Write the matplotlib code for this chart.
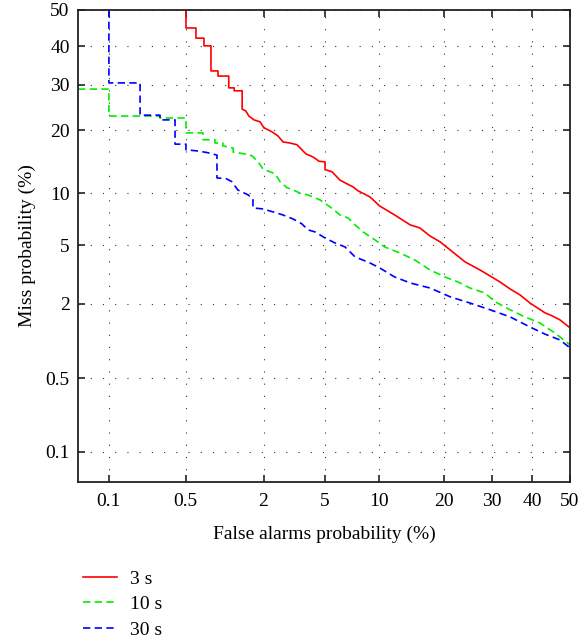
import numpy as np
import matplotlib
matplotlib.use("Agg")
import matplotlib.pyplot as plt
from statistics import NormalDist

# ---- data (percent) ----
fa_3s = [0.503,0.503,0.609,0.609,0.708,0.708,0.806,0.806,0.916,0.916,1.11,1.11,1.22,1.22,1.4,1.4,1.49,1.57,1.71,1.89,2.01,2.15,2.29,2.52,2.72,3.03,3.36,3.62,3.84,4.25,4.63,5.03,5.03,5.53,6.16,6.75,7.29,7.77,9.0,10.1,12.0,14.2,15.7,17.4,19.2,21.1,24.1,27.3,29.6,31.9,34.4,36.9,39.4,43.3,45.2,47.3,50.0]
miss_3s = [50.0,45.0,45.0,42.2,42.2,40.1,40.1,33.5,33.5,32.2,32.2,29.3,29.3,28.6,28.6,24.4,24.0,22.9,22.1,21.7,20.5,20.1,19.7,18.9,17.8,17.6,17.3,16.4,15.7,15.2,14.5,14.4,13.2,12.9,11.7,11.2,10.8,10.3,9.55,8.52,7.58,6.64,6.37,5.7,5.24,4.66,3.9,3.45,3.14,2.86,2.55,2.31,2.02,1.71,1.62,1.51,1.31]

fa_10s = [0.0488,0.1,0.1,0.3,0.3,0.503,0.503,0.695,0.695,0.867,0.867,1.0,1.0,1.2,1.2,1.47,1.65,1.83,1.98,2.4,2.6,2.89,3.27,3.52,3.95,4.69,5.39,6.16,6.84,7.48,8.27,9.56,10.7,12.7,14.9,17.4,20.1,22.6,25.1,28.4,30.8,34.4,38.1,42.0,46.0,50.0]
miss_10s = [29.0,29.0,22.9,22.9,22.5,22.5,19.5,19.5,18.2,18.2,17.6,17.6,17.1,16.7,16.0,15.7,15.4,14.4,13.3,12.6,11.5,10.7,10.3,10.0,9.79,9.2,8.42,7.58,7.29,6.64,6.03,5.39,4.87,4.46,4.02,3.45,3.09,2.86,2.59,2.39,2.06,1.8,1.59,1.43,1.19,0.957]

fa_30s = [0.1,0.1,0.198,0.198,0.3,0.3,0.406,0.406,0.503,0.503,0.633,0.763,0.899,0.899,1.06,1.17,1.3,1.55,1.68,1.68,1.98,2.33,2.72,3.17,3.62,3.95,4.37,5.03,5.76,6.58,7.48,9.0,10.1,12.0,14.2,17.4,21.1,25.1,29.6,34.4,39.4,43.3,47.3,50.0]
miss_30s = [50.0,30.5,30.5,23.1,23.1,22.1,22.1,17.4,17.4,16.4,16.2,15.9,15.5,12.0,11.9,11.5,10.4,9.79,9.31,8.31,8.2,7.89,7.58,7.19,6.73,6.2,6.03,5.54,5.16,4.87,4.21,3.84,3.56,3.09,2.81,2.59,2.24,2.02,1.8,1.59,1.33,1.17,1.05,0.905]

ticks = [0.1, 0.5, 2, 5, 10, 20, 30, 40, 50]
tick_labels = ["0.1", "0.5", "2", "5", "10", "20", "30", "40", "50"]
series_labels = ["3 s", "10 s", "30 s"]

# ---- probit scale ----
_nd = NormalDist()
def _fwd(p):
    p = np.clip(np.asarray(p, dtype=float) / 100.0, 1e-9, 1 - 1e-9)
    return np.vectorize(_nd.inv_cdf, otypes=[float])(p) if p.ndim else _nd.inv_cdf(float(p))
def _inv(z):
    z = np.asarray(z, dtype=float)
    return 100.0 * (np.vectorize(_nd.cdf, otypes=[float])(z) if z.ndim else _nd.cdf(float(z)))

plt.rcParams['font.family'] = ['Liberation Serif', 'DejaVu Serif']
fs = 14

fig = plt.figure(figsize=(5.88, 6.40), dpi=100)
ax = fig.add_axes([78/588, 1-482/640, (570-78)/588, (482-10)/640])
ax.set_xscale('function', functions=(_fwd, _inv))
ax.set_yscale('function', functions=(_fwd, _inv))

lw = 1.2
l1, = ax.plot(fa_3s, miss_3s, color='#ff0000', lw=lw, label=series_labels[0])
l2, = ax.plot(fa_10s, miss_10s, color='#00ee00', lw=lw, ls='--', dashes=(4.4, 2.6), label=series_labels[1])
l3, = ax.plot(fa_30s, miss_30s, color='#0000ff', lw=lw, ls='--', dashes=(4.4, 2.6), label=series_labels[2])

ax.set_xlim(0.0488, 50)
ax.set_ylim(0.048, 50)
ax.set_xticks(ticks)
ax.set_xticklabels(tick_labels)
ax.set_yticks(ticks)
ax.set_yticklabels(tick_labels)
ax.minorticks_off()
ax.tick_params(direction='in', top=True, right=True, length=5, width=1.2,
               labelsize=fs, color='#222222')
ax.tick_params(axis='x', pad=8)
ax.tick_params(axis='y', pad=6)
ax.grid(True, color='#333333', lw=0.8, ls=(0, (1, 10)))
for s in ax.spines.values():
    s.set_linewidth(1.3)
    s.set_color('#222222')

ax.set_xlabel("False alarms probability (%)", fontsize=fs, labelpad=11)
ax.set_ylabel("Miss probability (%)", fontsize=fs, labelpad=7)

fig.legend(handles=[l1, l2, l3], loc='upper left', bbox_to_anchor=(83/588, 1-570/640),
           frameon=False, fontsize=fs, handlelength=1.75, handletextpad=0.65,
           labelspacing=0.41, borderpad=0, borderaxespad=0)

fig.savefig("out.png", dpi=100)
